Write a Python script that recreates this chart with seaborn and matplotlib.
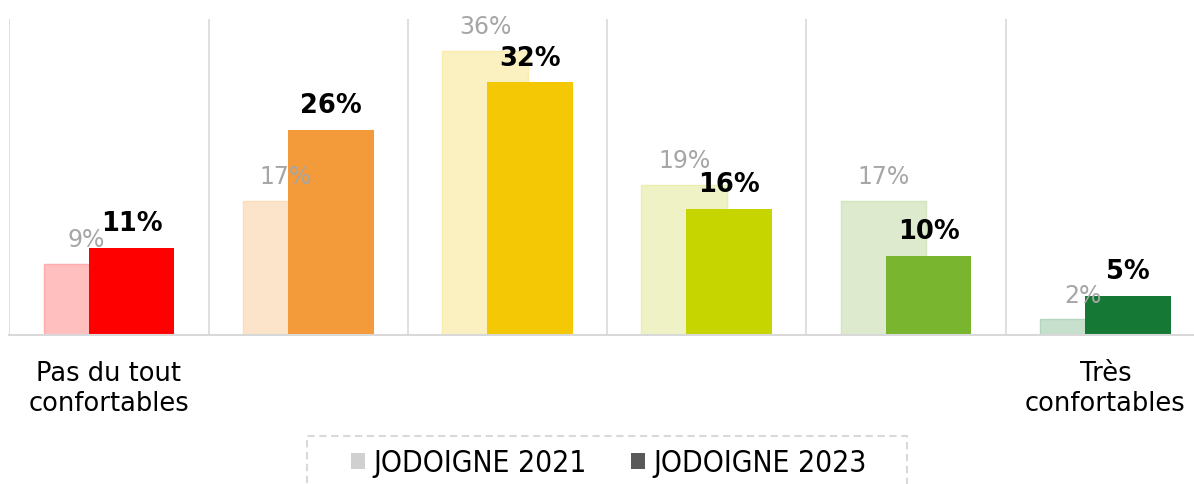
import matplotlib
matplotlib.use("Agg")
import matplotlib.pyplot as plt
import matplotlib.colors as mcolors
from matplotlib.patches import Patch, Rectangle
import seaborn as sns

# data
levels = ["1", "2", "3", "4", "5", "6"]
tick_labels = ["Pas du tout\nconfortables", "", "", "", "", "Très\nconfortables"]
series_names = ["JODOIGNE 2021", "JODOIGNE 2023"]
jodoigne_2021 = [9, 17, 36, 19, 17, 2]
jodoigne_2023 = [11, 26, 32, 16, 10, 5]

colors_2021 = ["#FFBFBF", "#FCE4CB", "#FAF0C0", "#EEF2C4", "#DDEACE", "#C6E0CD"]
colors_2023 = ["#FF0000", "#F39A3A", "#F4C804", "#C6D400", "#79B52F", "#157935"]
legend_colors = ["#D0D0D0", "#595959"]

W, H = 1194, 484
sns.set_style("white")
plt.rcParams["font.family"] = ["DejaVu Sans"]
plt.rcParams["text.color"] = "black"
plt.rcParams["xtick.color"] = "black"

fig = plt.figure(figsize=(W / 100, H / 100), dpi=100)
ax = fig.add_axes([9.3 / W, 149 / H, (1205 - 9.3) / W, (335 - 19) / H])

bar_w = 0.43
shift = 0.113


def draw_series(values, colors, offset, label_kw):
    n0 = len(ax.patches)
    sns.barplot(x=levels, y=values, hue=levels, palette=colors, width=bar_w,
                dodge=False, legend=False, saturation=1, linewidth=0, ax=ax)
    patches = ax.patches[n0:]
    for p, v in zip(patches, values):
        p.set_x(p.get_x() + offset)
        ax.annotate(f"{v}%", (p.get_x() + p.get_width() / 2, p.get_height()),
                    xytext=(0, 12), textcoords="offset points",
                    ha="center", va="baseline", zorder=5, **label_kw)
    return patches


old = draw_series(jodoigne_2021, colors_2021, -shift,
                  dict(color="#A6A6A6", fontsize=17))
for p, c, c_dark in zip(old, colors_2021, colors_2023):
    a = mcolors.to_rgb(c)
    b = mcolors.to_rgb(c_dark)
    p.set_edgecolor(tuple(0.9 * x + 0.1 * y for x, y in zip(a, b)))
    p.set_linewidth(1)

new = draw_series(jodoigne_2023, colors_2023, shift,
                  dict(color="black", fontsize=18.5, fontweight="bold"))
for p in new:
    p.set_edgecolor("none")

ax.set_xlim(-0.5, 5.5)
ax.set_ylim(0, 40)
ax.set_xticks(range(len(levels)), tick_labels)
ax.set_xticks([i - 0.5 for i in range(len(levels) + 1)], minor=True)
ax.set_yticks([])
ax.grid(False)
ax.grid(True, which="minor", axis="x", color="#D9D9D9", lw=1.2)
ax.set_axisbelow(True)
ax.tick_params(axis="x", which="both", length=0, pad=19, labelsize=18.5,
               labelcolor="black")
ax.set_xlabel("")
ax.set_ylabel("")
for s in ["left", "top", "right"]:
    ax.spines[s].set_visible(False)
ax.spines["bottom"].set_color("#D9D9D9")
ax.spines["bottom"].set_linewidth(1.5)

handles = [Patch(facecolor=c, edgecolor="none") for c in legend_colors]
fig.legend(handles, series_names, loc="center",
           bbox_to_anchor=(609 / W, 21 / H), ncol=2, frameon=False,
           prop=dict(family="DejaVu Sans", stretch="condensed", size=21.5),
           handlelength=0.47, handleheight=0.47, handletextpad=0.27,
           columnspacing=1.5, borderpad=0, labelcolor="black")
fig.add_artist(Rectangle((307 / W, -0.05), 600 / W, (484 - 436) / H + 0.05,
                         transform=fig.transFigure, fill=False,
                         edgecolor="#D9D9D9", lw=1.5, ls=(0, (3.5, 2.2))))

fig.savefig("out.png", dpi=100)
